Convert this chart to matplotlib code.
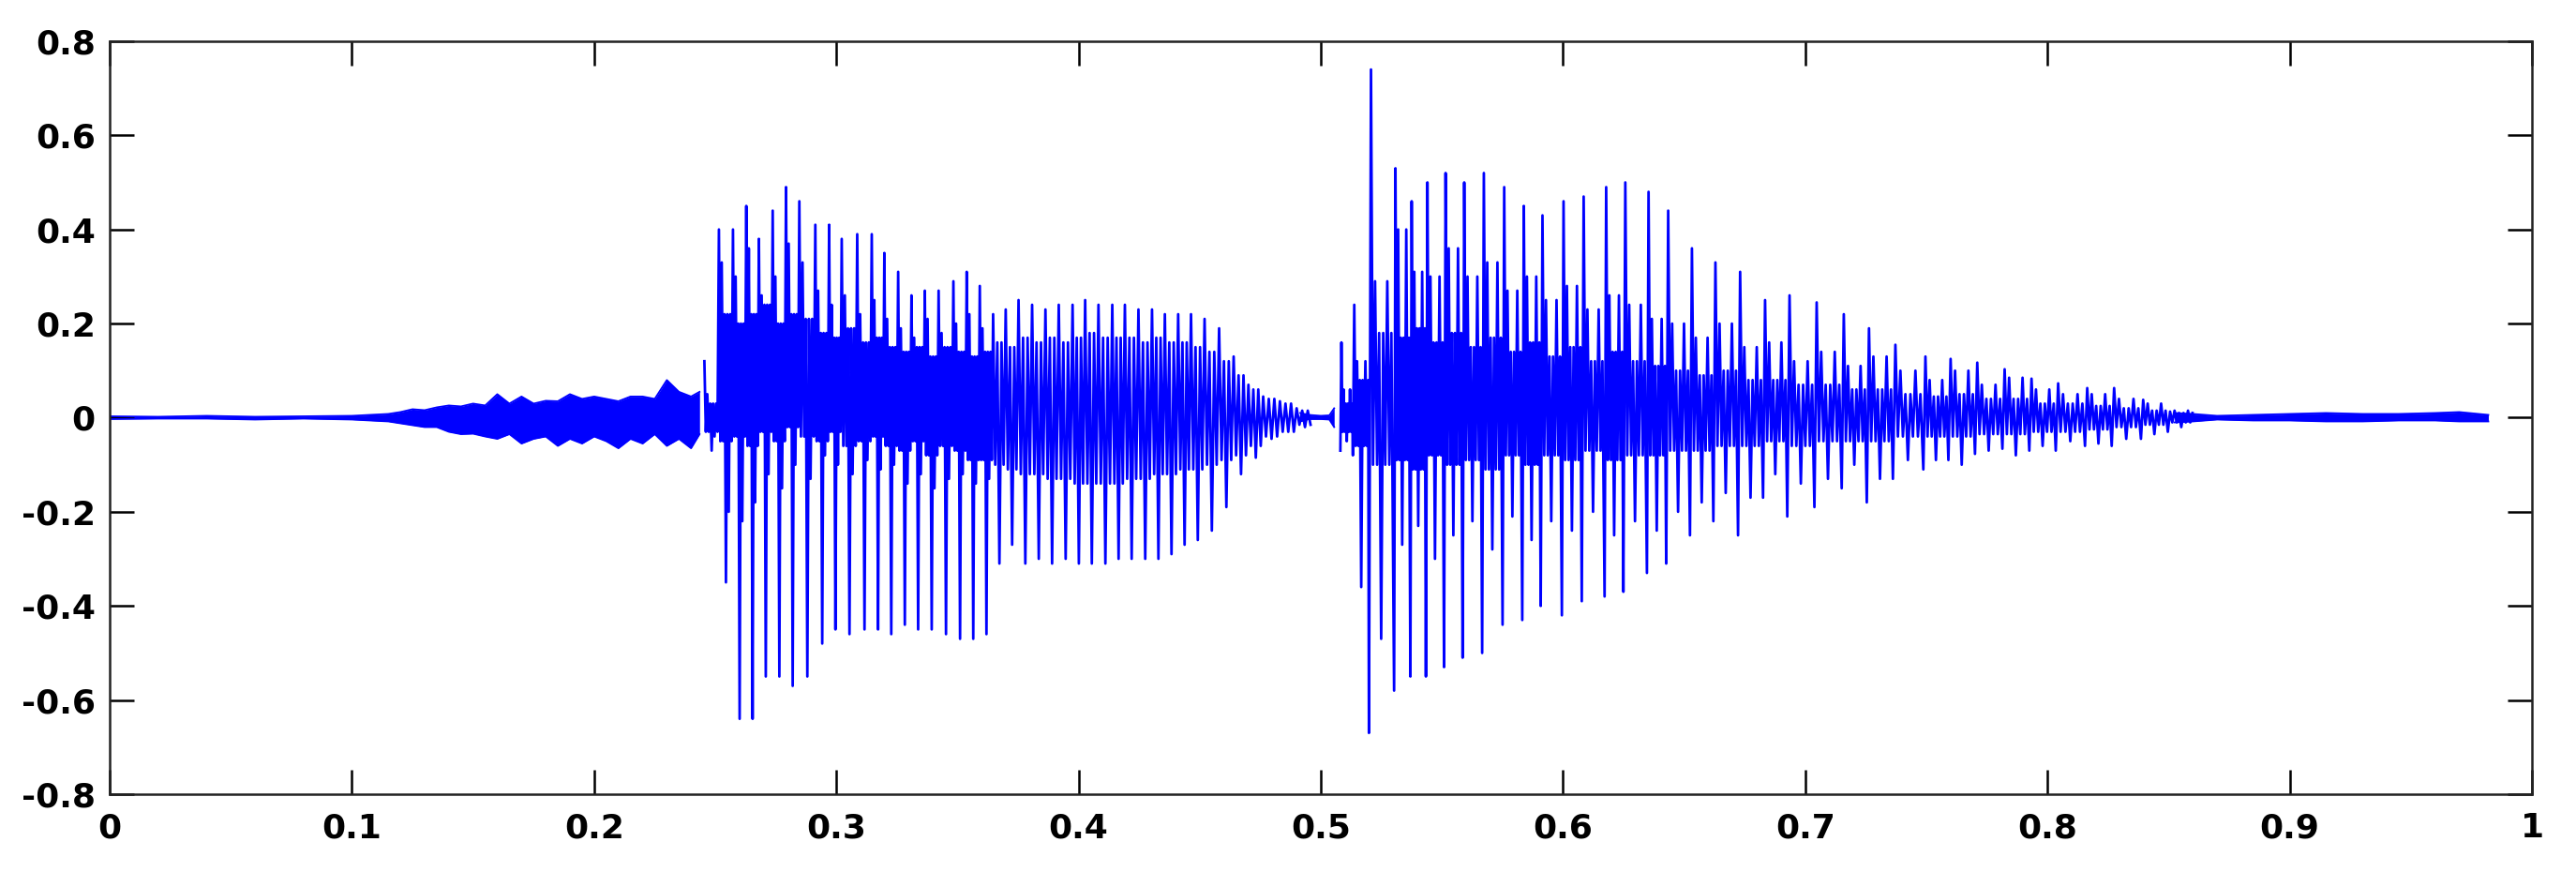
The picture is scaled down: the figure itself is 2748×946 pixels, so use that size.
import matplotlib
matplotlib.use('Agg')
import matplotlib.pyplot as plt
from matplotlib.ticker import FuncFormatter

plt.rcParams['font.family'] = ['DejaVu Sans']
plt.rcParams['axes.unicode_minus'] = False

# --- first voiced part: one entry per glottal pulse (time of the tall peak)
a_t = [0.2455, 0.2515, 0.2573, 0.2628, 0.2680, 0.2737, 0.2792, 0.2847, 0.2913, 0.2970,
       0.3022, 0.3086, 0.3146, 0.3198, 0.3255, 0.3310, 0.3365, 0.3422, 0.3483, 0.3538,
       0.3592, 0.3647, 0.3699, 0.3752, 0.3808, 0.3863, 0.3918, 0.3975, 0.4027, 0.4082,
       0.4139, 0.4191, 0.4247, 0.4303, 0.4356, 0.4411, 0.4464, 0.4520, 0.4580, 0.4640,
       0.4701, 0.4762, 0.4831, 0.4900]
a_hi = [0.12, 0.40, 0.40, 0.45, 0.38, 0.44, 0.49, 0.46, 0.41, 0.41,
        0.38, 0.39, 0.39, 0.35, 0.31, 0.26, 0.27, 0.27, 0.29, 0.31,
        0.28, 0.22, 0.23, 0.25, 0.24, 0.23, 0.24, 0.24, 0.25, 0.24,
        0.24, 0.24, 0.23, 0.23, 0.22, 0.22, 0.22, 0.21, 0.19, 0.13,
        0.07, 0.045, 0.035, 0.02]
a_lo = [-0.07, -0.35, -0.64, -0.64, -0.55, -0.55, -0.57, -0.55, -0.48, -0.45,
        -0.46, -0.45, -0.45, -0.46, -0.44, -0.45, -0.45, -0.46, -0.47, -0.47,
        -0.46, -0.31, -0.27, -0.31, -0.30, -0.31, -0.30, -0.31, -0.31, -0.31,
        -0.30, -0.30, -0.30, -0.30, -0.29, -0.27, -0.26, -0.24, -0.19, -0.12,
        -0.085, -0.045, -0.03, -0.02]
# secondary strokes inside each period
a_mid_hi = [0.05, 0.33, 0.30, 0.36, 0.26, 0.30, 0.37, 0.33, 0.27, 0.24,
            0.26, 0.22, 0.25, 0.21, 0.19, 0.17, 0.21, 0.18, 0.20, 0.22,
            0.19, 0.16, 0.15, 0.17, 0.16, 0.17, 0.16, 0.17, 0.18, 0.17,
            0.17, 0.17, 0.16, 0.17, 0.16, 0.16, 0.15, 0.14, 0.12, 0.09,
            0.06, 0.04, 0.03, 0.015]
a_mid_lo = [-0.04, -0.20, -0.22, -0.18, -0.12, -0.15, -0.10, -0.13, -0.08, -0.10,
            -0.12, -0.09, -0.11, -0.10, -0.14, -0.12, -0.15, -0.13, -0.12, -0.14,
            -0.13, -0.10, -0.11, -0.12, -0.12, -0.13, -0.13, -0.14, -0.14, -0.14,
            -0.14, -0.13, -0.13, -0.12, -0.12, -0.11, -0.11, -0.10, -0.09, -0.08,
            -0.06, -0.04, -0.03, -0.015]
# dense core band
a_core_hi = [0.03, 0.22, 0.20, 0.22, 0.24, 0.20, 0.22, 0.21, 0.18, 0.17,
             0.19, 0.16, 0.17, 0.15, 0.14, 0.15, 0.13, 0.15, 0.14, 0.13,
             0.14, 0.14, 0.14, 0.15, 0.15, 0.15, 0.15, 0.16, 0.16, 0.16,
             0.16, 0.15, 0.15, 0.15, 0.14, 0.14, 0.13, 0.12, 0.10, 0.08,
             0.05, 0.035, 0.025, 0.01]
a_core_lo = [-0.03, -0.05, -0.04, -0.06, -0.03, -0.05, -0.02, -0.04, -0.05, -0.03,
             -0.06, -0.05, -0.04, -0.06, -0.07, -0.05, -0.08, -0.06, -0.07, -0.09,
             -0.09, -0.09, -0.10, -0.11, -0.11, -0.12, -0.12, -0.13, -0.13, -0.13,
             -0.13, -0.12, -0.12, -0.11, -0.11, -0.10, -0.10, -0.09, -0.08, -0.07,
             -0.05, -0.035, -0.025, -0.01]

# --- second voiced part
b_t = [0.5085, 0.5138, 0.5207, 0.5308, 0.5375, 0.5440, 0.5515, 0.5592, 0.5673, 0.5757,
       0.5838, 0.5915, 0.6002, 0.6085, 0.6178, 0.6257, 0.6353, 0.6434, 0.6532, 0.6629,
       0.6731, 0.6834, 0.6935, 0.7047, 0.7159, 0.7263, 0.7372, 0.7496, 0.7600, 0.7710,
       0.7823, 0.7934, 0.8044, 0.8164, 0.8275, 0.8395, 0.8506]
b_hi = [0.16, 0.24, 0.74, 0.53, 0.46, 0.50, 0.52, 0.50, 0.52, 0.49,
        0.45, 0.43, 0.46, 0.47, 0.49, 0.50, 0.48, 0.44, 0.36, 0.33,
        0.31, 0.25, 0.26, 0.245, 0.22, 0.19, 0.155, 0.13, 0.125, 0.117,
        0.103, 0.083, 0.073, 0.063, 0.063, 0.038, 0.013]
b_lo = [-0.07, -0.08, -0.67, -0.58, -0.55, -0.55, -0.53, -0.51, -0.50, -0.44,
        -0.43, -0.40, -0.42, -0.39, -0.38, -0.37, -0.33, -0.31, -0.25, -0.22,
        -0.25, -0.17, -0.21, -0.19, -0.15, -0.18, -0.13, -0.11, -0.09, -0.077,
        -0.066, -0.07, -0.07, -0.06, -0.06, -0.045, -0.03]
b_mid_hi = [0.06, 0.12, 0.29, 0.40, 0.31, 0.30, 0.36, 0.30, 0.33, 0.27,
            0.30, 0.25, 0.28, 0.23, 0.26, 0.24, 0.21, 0.20, 0.17, 0.20,
            0.15, 0.16, 0.12, 0.14, 0.11, 0.13, 0.10, 0.08, 0.10, 0.07,
            0.085, 0.06, 0.05, 0.05, 0.04, 0.03, 0.015]
b_mid_lo = [-0.05, -0.36, -0.47, -0.27, -0.23, -0.30, -0.25, -0.22, -0.28, -0.21,
            -0.26, -0.22, -0.24, -0.20, -0.25, -0.22, -0.24, -0.20, -0.18, -0.16,
            -0.17, -0.12, -0.14, -0.13, -0.10, -0.13, -0.09, -0.09, -0.10, -0.07,
            -0.08, -0.06, -0.05, -0.055, -0.045, -0.035, -0.02]
b_core_hi = [0.03, 0.08, 0.18, 0.17, 0.19, 0.16, 0.18, 0.15, 0.17, 0.14,
             0.16, 0.13, 0.15, 0.12, 0.14, 0.12, 0.11, 0.10, 0.09, 0.10,
             0.08, 0.08, 0.07, 0.07, 0.06, 0.06, 0.05, 0.045, 0.05, 0.04,
             0.04, 0.03, 0.03, 0.025, 0.02, 0.015, 0.01]
b_core_lo = [-0.03, -0.06, -0.10, -0.09, -0.11, -0.08, -0.10, -0.09, -0.11, -0.08,
             -0.10, -0.08, -0.09, -0.07, -0.09, -0.08, -0.08, -0.07, -0.07, -0.06,
             -0.06, -0.05, -0.06, -0.05, -0.05, -0.05, -0.04, -0.04, -0.04, -0.035,
             -0.035, -0.03, -0.03, -0.025, -0.02, -0.015, -0.01]

# --- unvoiced / silent stretches, as upper and lower envelope
n_t = [0.0, 0.02, 0.04, 0.06, 0.08, 0.10, 0.115, 0.12, 0.125, 0.13, 0.135, 0.14,
       0.145, 0.15, 0.155, 0.16, 0.165, 0.17, 0.175, 0.18, 0.185, 0.19, 0.195, 0.20,
       0.205, 0.21, 0.215, 0.22, 0.225, 0.23, 0.235, 0.24, 0.2435]
n_hi = [0.003, 0.002, 0.004, 0.002, 0.003, 0.004, 0.008, 0.012, 0.018, 0.016, 0.022, 0.026,
        0.024, 0.03, 0.026, 0.05, 0.03, 0.045, 0.03, 0.036, 0.035, 0.05, 0.04, 0.045,
        0.04, 0.035, 0.045, 0.045, 0.04, 0.08, 0.055, 0.045, 0.055]
n_lo = [-0.003, -0.002, -0.002, -0.004, -0.002, -0.004, -0.008, -0.012, -0.016, -0.02, -0.02, -0.03,
        -0.035, -0.034, -0.04, -0.045, -0.035, -0.055, -0.045, -0.04, -0.06, -0.045, -0.055, -0.04,
        -0.05, -0.065, -0.045, -0.055, -0.035, -0.06, -0.045, -0.065, -0.035]
gap_t = [0.4915, 0.495, 0.500, 0.5035, 0.5055]
gap_hi = [0.01, 0.006, 0.004, 0.005, 0.02]
gap_lo = [-0.008, -0.003, -0.003, -0.004, -0.02]
tail_t = [0.8525, 0.86, 0.87, 0.885, 0.90, 0.915, 0.93, 0.945, 0.96, 0.97, 0.982]
tail_hi = [0.01, 0.008, 0.004, 0.006, 0.008, 0.01, 0.008, 0.008, 0.01, 0.012, 0.006]
tail_lo = [-0.01, -0.008, -0.004, -0.006, -0.006, -0.008, -0.008, -0.006, -0.006, -0.008, -0.008]

xticks = [0, 0.1, 0.2, 0.3, 0.4, 0.5, 0.6, 0.7, 0.8, 0.9, 1]
yticks = [-0.8, -0.6, -0.4, -0.2, 0, 0.2, 0.4, 0.6, 0.8]


def pulses(t, series, pattern, start=0, stop=None):
    # lay the per-pulse values out as a sample-like zigzag
    stop = len(t) if stop is None else stop
    h = pattern.index('hi')
    n = len(pattern)
    xs, ys = [], []
    for k in range(start, stop):
        per = (t[k + 1] - t[k]) if k + 1 < len(t) else (t[k] - t[k - 1])
        for j, key in enumerate(pattern):
            xs.append(t[k] + (j - h) * per / n)
            ys.append(series[key][k])
    return xs, ys


blue = '#0000ff'
fig = plt.figure(figsize=(27.48, 9.46), dpi=100)
ax = fig.add_axes([0.0426, 0.1047, 0.9403, 0.8488])

for tt, up, dn in [(n_t, n_hi, n_lo), (gap_t, gap_hi, gap_lo), (tail_t, tail_hi, tail_lo)]:
    ax.fill_between(tt, dn, up, color=blue, linewidth=0)
    ax.plot(tt, up, color=blue, lw=1.3)
    ax.plot(tt, dn, color=blue, lw=1.3)

sa = {'hi': a_hi, 'lo': a_lo, 'mhi': a_mid_hi, 'mlo': a_mid_lo, 'chi': a_core_hi, 'clo': a_core_lo}
sb = {'hi': b_hi, 'lo': b_lo, 'mhi': b_mid_hi, 'mlo': b_mid_lo, 'chi': b_core_hi, 'clo': b_core_lo}
dense = ['hi', 'clo', 'mhi', 'clo', 'chi', 'lo', 'chi', 'mlo', 'chi', 'clo']
sparse = ['hi', 'mlo', 'mhi', 'lo', 'mhi', 'mlo']
xa1, ya1 = pulses(a_t, sa, dense, 0, 21)
xa2, ya2 = pulses(a_t, sa, sparse, 21)
ax.plot(xa1 + xa2, ya1 + ya2, color=blue, lw=2.0)
xb, yb = pulses(b_t, sb, ['lo', 'hi', 'clo', 'mhi', 'clo', 'chi', 'mlo', 'chi', 'clo', 'mhi', 'clo', 'chi'])
ax.plot(xb, yb, color=blue, lw=2.0)

ax.set_xlim(0, 1)
ax.set_ylim(-0.8, 0.8)
ax.set_xticks(xticks)
ax.set_yticks(yticks)
fmt = FuncFormatter(lambda v, p: '%g' % round(v, 2))
ax.xaxis.set_major_formatter(fmt)
ax.yaxis.set_major_formatter(fmt)
ax.tick_params(direction='in', length=19, width=1.8, top=True, right=True,
               labelsize=26, colors='black')
ax.tick_params(axis='x', pad=14)
ax.tick_params(axis='y', pad=11)
for lab in ax.get_xticklabels() + ax.get_yticklabels():
    lab.set_fontweight('bold')
for s in ax.spines.values():
    s.set_linewidth(1.8)
    s.set_color('#222222')

fig.savefig('out.png', dpi=100)
